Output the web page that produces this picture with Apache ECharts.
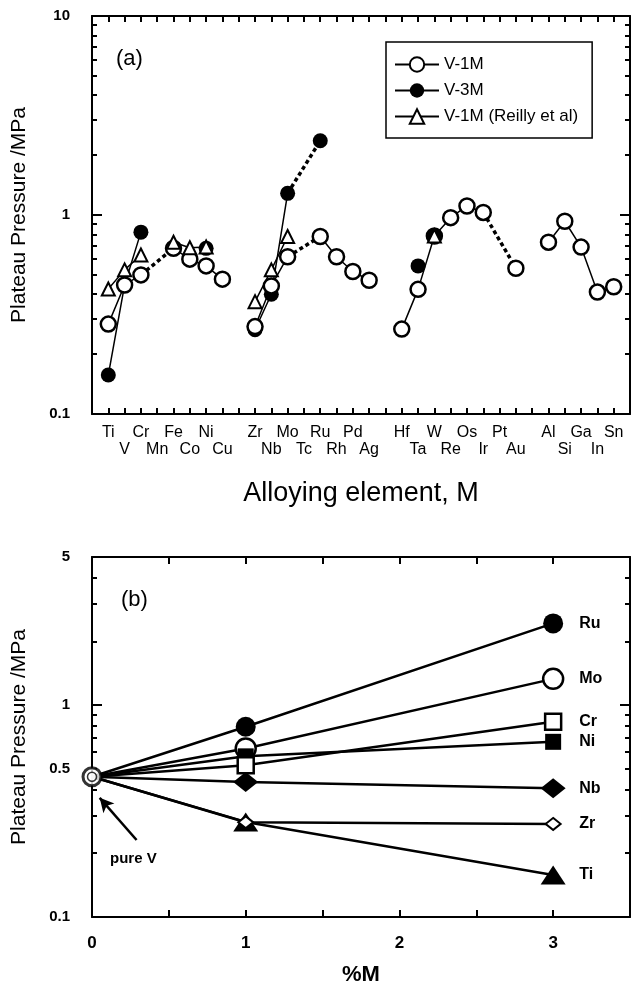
<!DOCTYPE html>
<html><head><meta charset="utf-8">
<script src="https://cdn.jsdelivr.net/npm/echarts@6/dist/echarts.min.js"></script>
<style>html,body{margin:0;padding:0;background:#fff}#c{width:633px;height:990px}</style>
</head><body><div id="c"></div>
<script>
// ---------- Panel (a) data ----------
const elements = ['', 'Ti','V','Cr','Mn','Fe','Co','Ni','Cu', '', 'Zr','Nb','Mo','Tc','Ru','Rh','Pd','Ag', '', 'Hf','Ta','W','Re','Os','Ir','Pt','Au', '', 'Al','Si','Ga','In','Sn', ''];
const v1M = [null, 0.283,0.445,0.50,null,0.68,0.60,0.555,0.476, null, 0.275,0.44,0.617,null,0.78,0.617,0.52,0.47, null, 0.267,0.423,0.784,0.97,1.11,1.03,null,0.54, null, 0.73,0.93,0.69,0.41,0.436, null];
const v3M = [null, 0.157,0.445,0.82,null,null,null,0.68,null, null, 0.265,0.40,1.285,null,2.36,null,null,null, null, null,0.555,0.784,null,null,null,null,null, null, null,null,null,null,null, null];
const reilly = [null, 0.425,0.53,0.63,null,0.73,0.685,0.69,null, null, 0.367,0.53,0.78,null,null,null,null,null, null, null,null,0.784,null,null,null,null,null, null, null,null,null,null,null, null];
const v1MDotted = [['Cr','Fe'],['Mo','Ru'],['Ir','Au']];
const v3MDotted = [['Mo','Ru']];
const v3MUnjoined = ['W'];
const yTicksA = [0.1, 1, 10];
const yMinorA = [0.2,0.3,0.4,0.5,0.6,0.7,0.8,0.9,2,3,4,5,6,7,8,9];

// ---------- Panel (b) data ----------
const pct = [0, 1, 3];
const pureV = 0.459;
const bElements = ['Ru','Mo','Ni','Cr','Nb','Ti','Zr'];
const b1pct = [0.79, 0.624, 0.573, 0.52, 0.434, 0.281, 0.28];
const b3pct = [2.43, 1.33, 0.671, 0.834, 0.405, 0.158, 0.275];
const yTicksB = [0.1, 1, 5];
const yLabelsB = [0.1, 0.5, 1, 5];
const yMinorB = [0.2,0.3,0.4,0.5,0.6,0.7,0.8,0.9,2,3,4];

const FONT = 'Liberation Sans';
const BLACK = '#000';

// row (upper/lower) of each element label, alternating inside each group
const rowOf = []; let cnt = 0;
elements.forEach(e => { if (e === '') { cnt = 0; rowOf.push(0); } else { rowOf.push(cnt % 2); cnt++; } });

const fmtNum = v => String(parseFloat(Number(v).toPrecision(6)));

function yAxes(gridIndex, max, majors, labels, minors, name) {
  const base = { type: 'log', logBase: 10, min: 0.1, max: max, gridIndex: gridIndex, splitLine: { show: false } };
  return [
    Object.assign({}, base, {
      position: 'left',
      axisLine: { show: true, lineStyle: { color: BLACK, width: 2 } },
      axisTick: { show: true, inside: true, length: 10, customValues: majors, lineStyle: { color: BLACK, width: 2 } },
      axisLabel: { show: true, customValues: labels, formatter: fmtNum, margin: 22, fontFamily: FONT, fontWeight: 'bold', fontSize: 15, color: BLACK },
      name: name, nameLocation: 'middle', nameGap: 62, nameRotate: 90,
      nameTextStyle: { fontFamily: FONT, fontSize: 21, color: BLACK }
    }),
    Object.assign({}, base, {
      position: 'left',
      axisLine: { show: false },
      axisTick: { show: true, inside: true, length: 5, customValues: minors, lineStyle: { color: BLACK, width: 2 } },
      axisLabel: { show: false }
    }),
    Object.assign({}, base, {
      position: 'right',
      axisLine: { show: true, lineStyle: { color: BLACK, width: 2 } },
      axisTick: { show: true, inside: true, length: 10, customValues: majors, lineStyle: { color: BLACK, width: 2 } },
      axisLabel: { show: false }
    }),
    Object.assign({}, base, {
      position: 'right',
      axisLine: { show: false },
      axisTick: { show: true, inside: true, length: 5, customValues: minors, lineStyle: { color: BLACK, width: 2 } },
      axisLabel: { show: false }
    })
  ];
}

const series = [];
const openCircle = { color: '#fff', borderColor: BLACK, borderWidth: 2.5 };

// V-3M main (joined) series
const v3MMain = v3M.map((v, i) => v3MUnjoined.includes(elements[i]) ? null : v);
const v3MExtra = v3M.map((v, i) => v3MUnjoined.includes(elements[i]) ? v : null);
series.push({
  name: 'V-3M', type: 'line', xAxisIndex: 0, yAxisIndex: 0, data: v3MMain, z: 2,
  symbol: 'circle', symbolSize: 15, itemStyle: { color: BLACK },
  lineStyle: { color: BLACK, width: 1.5 }, connectNulls: false, clip: false
});
series.push({
  name: 'V-1M', type: 'line', xAxisIndex: 0, yAxisIndex: 0, data: v1M, z: 3,
  symbol: 'circle', symbolSize: 15, itemStyle: openCircle,
  lineStyle: { color: BLACK, width: 1.5 }, connectNulls: false, clip: false
});
series.push({
  name: 'V-3M (unjoined)', type: 'line', xAxisIndex: 0, yAxisIndex: 0, data: v3MExtra, z: 4,
  symbol: 'circle', symbolSize: 15, itemStyle: { color: BLACK },
  lineStyle: { color: BLACK, width: 1.5 }, connectNulls: false, clip: false
});
series.push({
  name: 'V-1M (Reilly et al)', type: 'line', xAxisIndex: 0, yAxisIndex: 0, data: reilly, z: 5,
  symbol: 'triangle', symbolSize: 13, itemStyle: { color: '#fff', borderColor: BLACK, borderWidth: 2 },
  lineStyle: { color: BLACK, width: 1.5 }, connectNulls: false, clip: false
});
function addDotted(values, pairs, tag) {
  pairs.forEach(([a, b], k) => {
    const ia = elements.indexOf(a), ib = elements.indexOf(b);
    const d = elements.map(() => null);
    d[ia] = values[ia]; d[ib] = values[ib];
    series.push({
      name: tag + ' dotted ' + k, type: 'line', xAxisIndex: 0, yAxisIndex: 0, data: d, z: 1,
      symbol: 'none', connectNulls: true, clip: false,
      lineStyle: { color: BLACK, width: 3.5, type: [4, 3] }
    });
  });
}
addDotted(v1M, v1MDotted, 'V-1M');
addDotted(v3M, v3MDotted, 'V-3M');

// ---------- Panel (b) series ----------
const bStyle = {
  Ru: { symbol: 'circle', size: 20, item: { color: BLACK } },
  Mo: { symbol: 'circle', size: 20, item: { color: '#fff', borderColor: BLACK, borderWidth: 2.5 } },
  Cr: { symbol: 'rect', size: 16, item: { color: '#fff', borderColor: BLACK, borderWidth: 2.5 } },
  Ni: { symbol: 'rect', size: 16, item: { color: BLACK } },
  Nb: { symbol: 'diamond', size: [25, 20], item: { color: BLACK } },
  Zr: { symbol: 'diamond', size: [15, 12], item: { color: '#fff', borderColor: BLACK, borderWidth: 2 } },
  Ti: { symbol: 'triangle', size: [25, 19], item: { color: BLACK } }
};
bElements.forEach((el, i) => {
  const st = bStyle[el];
  series.push({
    name: el, type: 'line', xAxisIndex: 2, yAxisIndex: 4, z: 3,
    data: [{ value: [pct[0], pureV], symbol: 'none' }, [pct[1], b1pct[i]], [pct[2], b3pct[i]]],
    symbol: st.symbol, symbolSize: st.size, itemStyle: st.item,
    lineStyle: { color: BLACK, width: 2.5 }, clip: false,
    endLabel: { show: true, formatter: '{a}', distance: 26, fontFamily: FONT, fontWeight: 'bold', fontSize: 16, color: BLACK }
  });
});
series.push({
  name: 'pure V', type: 'scatter', xAxisIndex: 2, yAxisIndex: 4, z: 10, clip: false,
  data: [[0, pureV]], symbol: 'circle', symbolSize: 18,
  itemStyle: { color: '#fff', borderColor: BLACK, borderWidth: 3 },
  markLine: {
    silent: true, symbol: ['none', 'arrow'], symbolSize: [11, 14],
    lineStyle: { color: BLACK, width: 2.5, type: 'solid' }, label: { show: false },
    data: [[{ coord: [0.29, 0.231] }, { coord: [0.05, 0.365] }]]
  }
});
series.push({
  name: 'pure V inner', type: 'scatter', xAxisIndex: 2, yAxisIndex: 4, z: 11, clip: false,
  data: [[0, pureV]], symbol: 'circle', symbolSize: 9,
  itemStyle: { color: '#fff', borderColor: BLACK, borderWidth: 1.5 }
});

const axisLineStyle = { show: true, lineStyle: { color: BLACK, width: 2 } };
const option = {
  animation: false,
  backgroundColor: '#fff',
  textStyle: { fontFamily: FONT },
  grid: [
    { left: 92, top: 16, width: 540, height: 398 },
    { left: 92, top: 557, width: 540, height: 360 }
  ],
  legend: {
    data: ['V-1M', 'V-3M', 'V-1M (Reilly et al)'],
    orient: 'vertical', left: 386, top: 42, selectedMode: false,
    itemWidth: 44, itemHeight: 18, itemGap: 9,
    padding: [14, 14, 13, 8],
    borderColor: BLACK, borderWidth: 1.5, backgroundColor: '#fff',
    textStyle: { fontFamily: FONT, fontSize: 17, color: BLACK }
  },
  xAxis: [
    {
      type: 'category', gridIndex: 0, data: elements, boundaryGap: false, position: 'bottom',
      axisLine: axisLineStyle,
      axisTick: { show: true, inside: true, length: 6, interval: 0, lineStyle: { color: BLACK, width: 2 } },
      axisLabel: {
        interval: 0, margin: 10, fontFamily: FONT, fontSize: 16, lineHeight: 17, color: BLACK,
        formatter: (val, idx) => val === '' ? '' : (rowOf[idx] ? '\n' + val : val + '\n')
      },
      name: 'Alloying element, M', nameLocation: 'middle', nameGap: 66,
      nameTextStyle: { fontFamily: FONT, fontSize: 27, color: BLACK }
    },
    {
      type: 'category', gridIndex: 0, data: elements, boundaryGap: false, position: 'top',
      axisLine: axisLineStyle,
      axisTick: { show: true, inside: true, length: 6, interval: 0, lineStyle: { color: BLACK, width: 2 } },
      axisLabel: { show: false }
    },
    {
      type: 'value', gridIndex: 1, min: 0, max: 3.5, interval: 0.5, position: 'bottom',
      splitLine: { show: false }, axisLine: axisLineStyle,
      axisTick: { show: true, inside: true, length: 7, lineStyle: { color: BLACK, width: 2 } },
      axisLabel: {
        margin: 18, fontFamily: FONT, fontWeight: 'bold', fontSize: 17, color: BLACK,
        formatter: v => Number.isInteger(v) && v <= 3 ? String(v) : ''
      },
      name: '%M', nameLocation: 'middle', nameGap: 47,
      nameTextStyle: { fontFamily: FONT, fontWeight: 'bold', fontSize: 22, color: BLACK }
    },
    {
      type: 'value', gridIndex: 1, min: 0, max: 3.5, interval: 0.5, position: 'top',
      splitLine: { show: false }, axisLine: axisLineStyle,
      axisTick: { show: true, inside: true, length: 7, lineStyle: { color: BLACK, width: 2 } },
      axisLabel: { show: false }
    }
  ],
  yAxis: [].concat(
    yAxes(0, 10, yTicksA, yTicksA, yMinorA, 'Plateau Pressure /MPa'),
    yAxes(1, 5, yTicksB, yLabelsB, yMinorB, 'Plateau Pressure /MPa')
  ),
  graphic: [
    { type: 'text', left: 116, top: 48, style: { text: '(a)', font: '22px "Liberation Sans"', fill: BLACK } },
    { type: 'text', left: 121, top: 589, style: { text: '(b)', font: '22px "Liberation Sans"', fill: BLACK } },
    { type: 'text', left: 110, top: 851, style: { text: 'pure V', font: 'bold 15px "Liberation Sans"', fill: BLACK } }
  ],
  series: series
};
const chart = echarts.init(document.getElementById('c'));
chart.setOption(option);
</script>
</body></html>
